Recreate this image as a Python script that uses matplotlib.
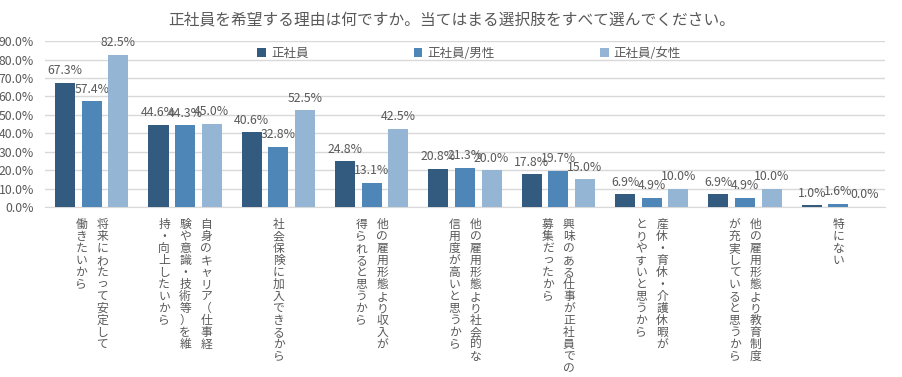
import numpy as np
import matplotlib
matplotlib.use('Agg')
import matplotlib.pyplot as plt
from matplotlib.ticker import FuncFormatter
import matplotlib.transforms as mtransforms

plt.rcParams['font.family'] = ['Noto Sans CJK JP', 'DejaVu Sans']

# data (percent)
title = '正社員を希望する理由は何ですか。当てはまる選択肢をすべて選んでください。'
series_names = ['正社員', '正社員/男性', '正社員/女性']
all_emp = [67.3, 44.6, 40.6, 24.8, 20.8, 17.8, 6.9, 6.9, 1.0]
male = [57.4, 44.3, 32.8, 13.1, 21.3, 19.7, 4.9, 4.9, 1.6]
female = [82.5, 45.0, 52.5, 42.5, 20.0, 15.0, 10.0, 10.0, 0.0]
# category labels, one entry per vertical column (right to left)
categories = [
    ['将来にわたって安定して', '働きたいから'],
    ['自身のキャリア（仕事経', '験や意識・技術等）を維', '持・向上したいから'],
    ['社会保険に加入できるから'],
    ['他の雇用形態より収入が', '得られると思うから'],
    ['他の雇用形態より社会的な', '信用度が高いと思うから'],
    ['興味のある仕事が正社員での', '募集だったから'],
    ['産休・育休・介護休暇が', 'とりやすいと思うから'],
    ['他の雇用形態より教育制度', 'が充実していると思うから'],
    ['特にない'],
]
colors = ['#335B80', '#4F86B8', '#95B5D5']
yticks = np.arange(0, 91, 10)

fig = plt.figure(figsize=(9.03, 3.77), dpi=100)
ax = fig.add_axes([0.05, 0.451, 0.93, 0.44])

x = np.arange(len(categories))
w = 0.215
offs = [-0.285, 0.0, 0.285]
for vals, off, c, name in zip([all_emp, male, female], offs, colors, series_names):
    bars = ax.bar(x + off, vals, width=w, color=c, label=name, zorder=3)
    for b, v in zip(bars, vals):
        ax.annotate('%.1f%%' % v, (b.get_x() + b.get_width() / 2, v),
                    xytext=(0, 4), textcoords='offset points',
                    ha='center', va='bottom', fontsize=8.8, color='#595959')

ax.set_xlim(-0.5, len(categories) - 0.5)
ax.set_ylim(0, 90)
ax.set_yticks(yticks)
ax.yaxis.set_major_formatter(FuncFormatter(lambda v, p: '%.1f%%' % v))
ax.tick_params(axis='y', length=0, pad=8, labelsize=8.8, labelcolor='#595959')
ax.set_xticks([])
ax.grid(axis='y', color='#D9D9D9', linewidth=1, zorder=0)
for s in ['top', 'right', 'left']:
    ax.spines[s].set_visible(False)
ax.spines['bottom'].set_color('#D9D9D9')

# vertical (tategaki) category labels
trans = mtransforms.blended_transform_factory(ax.transData, ax.transAxes)
colstep = 0.225
for i, cols in enumerate(categories):
    n = len(cols)
    for j, col in enumerate(cols):
        cx = i + (n - 1) / 2 * colstep - j * colstep
        ax.annotate('\n'.join(col), (cx, 0), xycoords=trans,
                    xytext=(0, -8), textcoords='offset points',
                    ha='center', va='top', fontsize=8.5, color='#595959',
                    linespacing=0.9, annotation_clip=False)

fig.text(0.5, 0.945, title, ha='center', va='center', fontsize=11.3, color='#595959')

leg = ax.legend(loc='upper center', bbox_to_anchor=(0.505, 1.035), ncol=3, frameon=False,
                fontsize=9, handlelength=0.7, handleheight=0.7, handletextpad=0.4,
                columnspacing=8.4)
for t in leg.get_texts():
    t.set_color('#595959')

fig.savefig('out.png', dpi=100)
